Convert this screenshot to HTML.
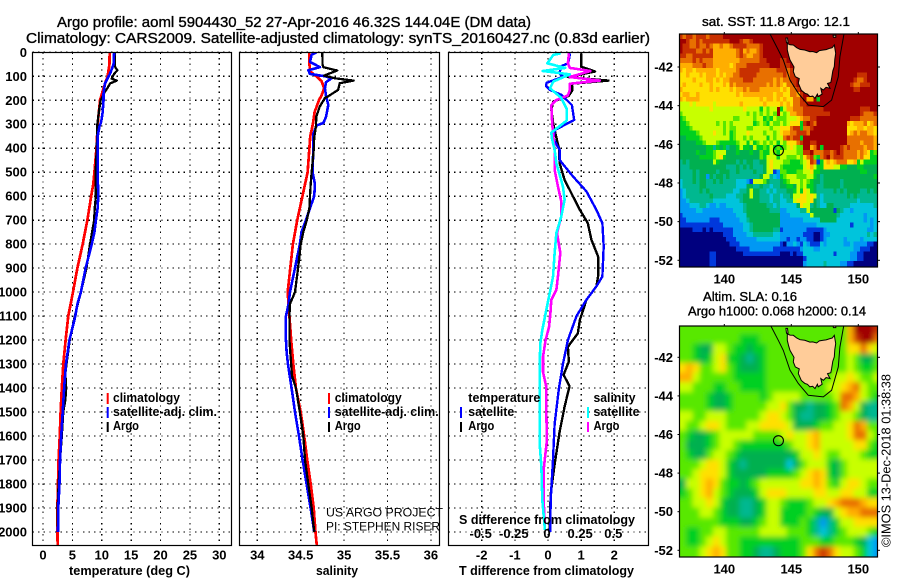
<!DOCTYPE html>
<html>
<head>
<meta charset="utf-8">
<title>Argo profile</title>
<style>
html,body{margin:0;padding:0;background:#fff;}
svg{display:block;font-family:"Liberation Sans",sans-serif;}
text{fill:#000;}
.b{font-weight:bold;font-size:13px;}
.t{font-size:14.5px;stroke:#000;stroke-width:.35px;}
.l{font-weight:bold;font-size:12.5px;}
</style>
</head>
<body>
<svg id="chart" xmlns="http://www.w3.org/2000/svg" width="900" height="580" viewBox="0 0 900 580">
<defs>
<clipPath id="clip-p1"><rect x="32.5" y="52.5" width="199" height="493"/></clipPath>
<clipPath id="clip-p2"><rect x="239.5" y="52.5" width="200" height="493"/></clipPath>
<clipPath id="clip-p3"><rect x="448.5" y="52.5" width="200" height="493"/></clipPath>
<clipPath id="clip-m1"><rect x="679.5" y="34" width="198" height="233"/></clipPath>
<clipPath id="clip-m2"><rect x="679.5" y="326" width="198" height="231"/></clipPath>
<filter id="sla-blur" x="-10%" y="-10%" width="120%" height="120%"><feGaussianBlur stdDeviation="2.6"/></filter>
</defs>
<rect width="900" height="580" fill="#fff"/>

<text class="t" x="57" y="27" textLength="474" lengthAdjust="spacingAndGlyphs">Argo profile: aoml 5904430_52 27-Apr-2016 46.32S 144.04E (DM data)</text>
<text class="t" x="26" y="43" textLength="624" lengthAdjust="spacingAndGlyphs">Climatology: CARS2009. Satellite-adjusted climatology: synTS_20160427.nc (0.83d earlier)</text>

<g id="p1"></g>
<g id="p2"></g>
<g id="p3"></g>
<g id="m1"></g>
<g id="m2"></g>

<text class="b" x="69" y="575" textLength="121" lengthAdjust="spacingAndGlyphs">temperature (deg C)</text>
<text class="b" x="316" y="575" textLength="42" lengthAdjust="spacingAndGlyphs">salinity</text>
<text class="b" x="459" y="575" textLength="175" lengthAdjust="spacingAndGlyphs">T difference from climatology</text>
<text class="b" x="459" y="524" textLength="176" lengthAdjust="spacingAndGlyphs">S difference from climatology</text>

<g>
<rect x="106.7" y="393" width="2" height="11" fill="#f00"/>
<rect x="106.7" y="407" width="2" height="11" fill="#00f"/>
<rect x="106.7" y="422" width="2" height="10" fill="#000"/>
<text class="l" x="113" y="402" textLength="67" lengthAdjust="spacingAndGlyphs">climatology</text>
<text class="l" x="113" y="416" textLength="104" lengthAdjust="spacingAndGlyphs">satellite-adj. clim.</text>
<text class="l" x="113" y="430" textLength="26" lengthAdjust="spacingAndGlyphs">Argo</text>
</g>
<g>
<rect x="328" y="393" width="2" height="11" fill="#f00"/>
<rect x="328" y="407" width="2" height="11" fill="#00f"/>
<rect x="328" y="422" width="2" height="10" fill="#000"/>
<text class="l" x="334.7" y="402" textLength="67" lengthAdjust="spacingAndGlyphs">climatology</text>
<text class="l" x="334.7" y="416" textLength="104" lengthAdjust="spacingAndGlyphs">satellite-adj. clim.</text>
<text class="l" x="334.7" y="430" textLength="26" lengthAdjust="spacingAndGlyphs">Argo</text>
<text x="326" y="516.5" font-size="12" textLength="117" lengthAdjust="spacingAndGlyphs">US ARGO PROJECT</text>
<text x="326" y="530.5" font-size="12" textLength="114" lengthAdjust="spacingAndGlyphs">PI: STEPHEN RISER</text>
</g>
<g>
<text class="l" x="468.3" y="402" textLength="72" lengthAdjust="spacingAndGlyphs">temperature</text>
<rect x="460" y="407" width="2" height="11" fill="#00f"/>
<rect x="460" y="422" width="2" height="10" fill="#000"/>
<text class="l" x="468.3" y="416" textLength="46" lengthAdjust="spacingAndGlyphs">satellite</text>
<text class="l" x="468.3" y="430" textLength="26" lengthAdjust="spacingAndGlyphs">Argo</text>
<text class="l" x="593.5" y="402" textLength="42" lengthAdjust="spacingAndGlyphs">salinity</text>
<rect x="587" y="407" width="2" height="11" fill="#0ff"/>
<rect x="587" y="422" width="2" height="10" fill="#f0f"/>
<text class="l" x="593.5" y="416" textLength="46" lengthAdjust="spacingAndGlyphs">satellite</text>
<text class="l" x="593.5" y="430" textLength="26" lengthAdjust="spacingAndGlyphs">Argo</text>
</g>

<text class="t" x="702" y="26" style="font-size:13px" textLength="148" lengthAdjust="spacingAndGlyphs">sat. SST: 11.8 Argo: 12.1</text>
<text class="t" x="703" y="301" style="font-size:13px" textLength="94" lengthAdjust="spacingAndGlyphs">Altim. SLA: 0.16</text>
<text class="t" x="688" y="315.5" style="font-size:13px" textLength="178" lengthAdjust="spacingAndGlyphs">Argo h1000: 0.068 h2000: 0.14</text>
<text transform="translate(890.5,547) rotate(-90)" font-size="13" textLength="173" lengthAdjust="spacingAndGlyphs">©IMOS 13-Dec-2018 01:38:38</text>
</svg>

<script>
// ---- tick labels ----
var depthTicks = [0,100,200,300,400,500,600,700,800,900,1000,1100,1200,1300,1400,1500,1600,1700,1800,1900,2000];
var tempTicks = [0,5,10,15,20,25,30];
var salTicks = [34,34.5,35,35.5,36];
var salTickLabels = ['34','34.5','35','35.5','36'];
var diffTTicks = [-2,-1,0,1,2];
var diffSTicks = [-0.5,-0.25,0,0.25,0.5];
var lonTicks = [140,145,150];
var latTicks = [-42,-44,-46,-48,-50,-52];

// ---- temperature profiles ----
var tempClimDepth = [0,50,100,120,150,200,250,300,400,500,550,600,700,800,900,1000,1100,1200,1300,1400,1500,1600,1700,1800,1900,2000,2055];
var tempClim = [11.35,11.3,11,10.7,10.3,9.7,9.5,9.3,9.1,8.75,8.55,8.2,7.55,6.75,5.85,5.1,4.3,3.85,3.45,3.2,3,2.85,2.65,2.55,2.45,2.45,2.5];
var tempSatDepth = [0,50,90,110,130,170,200,250,290,310,350,400,500,600,650,700,750,800,900,1000,1050,1100,1200,1300,1400,1500,1600,1700,1800,1900,2000];
var tempSat = [12.1,12,11.4,10.95,10.55,10.3,10.3,10.15,9.9,9.6,9.3,9.3,9.3,9.4,9.3,9,8.75,8.3,7.25,6.45,5.85,5.5,4.5,3.9,3.6,3.35,3.1,2.9,2.8,2.6,2.55];
var tempArgoDepth = [0,60,75,90,110,118,130,150,170,200,250,300,400,500,600,650,700,800,900,1000,1100,1200,1300,1340,1400,1450,1500,1600,1700,1800,1900,2000];
var tempArgo = [12.25,12.25,12.65,12.1,11.7,12.55,11.4,10.95,10.4,9.8,9.5,9.25,9.15,8.95,9,8.8,8.7,8,7.4,6.45,5.4,4.55,4,3.8,3.95,3.8,3.45,3.2,2.9,2.65,2.5,2.45];

// ---- salinity profiles ----
var salClimDepth = [0,50,80,100,120,150,180,200,250,300,350,400,500,600,700,800,900,1000,1050,1100,1200,1300,1400,1500,1600,1700,1800,1900,2000,2055];
var salClim = [34.6,34.6,34.61,34.68,34.74,34.77,34.74,34.71,34.66,34.64,34.61,34.6,34.58,34.52,34.46,34.41,34.38,34.35,34.36,34.37,34.39,34.415,34.445,34.5,34.54,34.575,34.615,34.65,34.67,34.685];
var salSatDepth = [0,10,40,62,75,90,100,108,125,150,180,220,270,295,305,340,400,500,550,600,650,700,750,800,900,1000,1050,1100,1200,1250,1300,1400,1500,1600,1700,1800,1900,2000];
var salSat = [34.683,34.626,34.607,34.722,34.587,34.607,34.779,34.856,34.791,34.779,34.791,34.818,34.791,34.76,34.683,34.645,34.645,34.637,34.664,34.656,34.607,34.56,34.51,34.49,34.434,34.376,34.36,34.33,34.33,34.338,34.353,34.395,34.434,34.48,34.522,34.568,34.614,34.656];
var salArgoDepth = [0,50,62,76,97,108,118,129,157,185,190,226,268,310,358,400,500,550,600,650,700,750,800,900,1000,1050,1100,1200,1300,1350,1400,1500,1600,1700,1800,1900,2000];
var salArgo = [34.749,34.752,34.76,34.92,34.77,34.887,35.11,34.95,34.93,34.81,34.78,34.72,34.68,34.675,34.655,34.652,34.626,34.615,34.607,34.6,34.57,34.53,34.5,34.47,34.434,34.376,34.37,34.37,34.39,34.4,34.445,34.49,34.53,34.55,34.587,34.626,34.656];

// ---- difference profiles ----
var dTSatDepth = [4,46,57,88,102,127,141,157,178,220,282,324,359,407,449,518,580,657,712,810,935,976,1032,1100,1200,1300,1400,1550,1700,1870,2000];
var dTSat = [0.665,0.61,0.41,0.34,0.46,-0.04,-0.06,0.06,0.41,0.72,0.79,0.21,0.16,0.35,0.35,0.755,1.16,1.46,1.64,1.68,1.64,1.46,1.16,0.86,0.6,0.45,0.33,0.2,0.15,0.08,0.07];
var dTArgoDepth = [4,60,80,103,118,131,157,182,205,240,300,360,400,462,532,657,712,782,851,935,976,1032,1117,1172,1228,1290,1345,1392,1478,1583,1718,1843,2000];
var dTArgo = [1,1,1.42,0.6,1.82,0.72,0.74,0.62,0.16,0.1,0.16,0.26,0.33,0.35,0.5,0.96,1.2,1.31,1.51,1.51,1.46,1.16,0.96,0.9,0.6,0.63,0.47,0.65,0.5,0.35,0.2,0.08,0.05];
var dSSatDepth = [4,11,46,65,78,92,122,150,190,235,285,335,360,407,462,560,615,685,754,837,935,1018,1075,1158,1214,1311,1450,1630,1728,1867,1992];
var dSSat = [0.096,0.04,-0.005,0.13,-0.04,0.165,0.04,0.015,0.1,0.14,0.14,0.025,0.03,0.05,0.063,0.113,0.125,0.1,0.063,0.05,0.038,0.008,-0.013,-0.043,-0.058,-0.063,-0.063,-0.063,-0.05,-0.043,-0.023];
var dSArgoDepth = [4,46,65,78,103,118,131,157,180,200,220,280,355,407,490,560,622,685,754,837,935,990,1032,1090,1145,1200,1270,1332,1395,1492,1617,1742,1867,1978];
var dSArgo = [0.158,0.15,0.165,0.32,0.165,0.39,0.165,0.165,0.15,0.06,0.025,0.03,0.04,0.05,0.05,0.075,0.1,0.1,0.068,0.093,0.075,0.063,0.025,0.018,0.008,-0.018,-0.038,-0.038,-0.013,-0.013,-0.008,-0.033,-0.033,-0.023];

// ---- map data: each character is a hex colour-class for one grid cell ----
var colourScale = ['#00007f','#0038dc','#0098f4','#00c4dc','#00b890','#00b050','#00d020','#58e800','#c8ff00','#ffe000','#ffae00','#e87000','#c83000','#a00000'];
// SST, quarter-degree rows; west half and east half
var sstWest = [
"cbccbcccbccccddddddddddddddddd",
"ddcbbcbccccccccdddcbbcddddddd",
"dccbbcbbcbaabaabccccbbbbcddddd",
"dccccbbcbcaaaaaaabcabaabcddddd",
"ccbbccccccaaaaaaabcbaabbcddddd",
"bbbbcbcbbbaaaaaaaabbbbbbccdddd",
"aaaabbbcbbaaaaa9abbbcccccccddd",
"a9aa9aaaaaa9aaaaabccccccbbbbbc",
"99a999a9aaa9a9aabbcccccbbbbbbb",
"9999a999aa9a9aabbbbcccbbbbbbab",
"9a9999a99a999a9babbbbbbbbbabab",
"a99999999a9a999a9aababbbaaaaaa",
"9aa99a99999999999a9aaaaaaaaa9a",
"a9aaaa999999999999999999a9aa9a",
"888989999989999999a999999a9999",
"888888888988888888898888 68788",
"788888888888888888887878 78787",
"678888888888888877888878867687",
"667888888887878788888867876877",
"666788888888878778887788888788c",
"666667888898878678889888878878",
"556666788888888678878788886878",
"555556678887666667886867878786",
"555555556646564556866586676867",
"555556556678885556555655766876",
"555555666678965555555555768886",
"454555555586555554545544558988",
"444555555555554445454544458988",
"444454555554555445444454458812",
"444454552545545444444444588432",
"344454554454544443332188875444",
"344444554444444443335544544344",
"234444545444444433445855443434",
"234444444544443334455855444344",
"223444444433333333455555444344",
"222333443223223333345555554434",
"222223322222222233345555555444",
"122222222222222223335555555555",
"112222222111222222334555555555",
"111111111111122222233455555555",
"000011101011111122233455555544",
"000000000000011122223344444433",
"000000000000001112222223333333",
"000000000000000111222222222222",
"000000000000000001111222222211",
"000000000110000000011111111111",
"000000000110000000000000000000",
"000000000110000000000000000000"
].map(function(s){return s.replace(/ /g,'').slice(0,30);});
var sstEast = [
"dddddddddddddddddddddddddddddd",
"dddddddddddddddddddddddddddddd",
"dddddddddddddddddddddddddddddd",
"dddddddddddddddddddddddddddddd",
"dddddddddddddddddddddddddddddd",
"ccdddddddddddddddddddddddddddd",
"cccddddddddddddddddddddddddddd",
"ccbcdddddddddddddddddddddddddd",
"bcbccddddddddddddddddddcccdddd",
"abbccdddddddddddddddddcbbcdddd",
"a9bbcddddddddddddddddcbbcccddd",
"9a9bbcddddddddddddddddccd dddd",
"a99bbacddddddddddddddddddddddd",
"9a99bbcdaad6dddddddddddddddddd",
"a9a9bbccdddddddddddddddddddddd",
"68aabbbccccccdddddddddddcccddd",
"878aabbccccccccdddddddddcbbbccd",
"778889abbccddddddddddcccbbbbbc",
"8789996cdcbddddddddda9aaab9aba",
"999bcc6bbcdddddddddd999aa9aa9a",
"9aabbcccbddddddddddd9ababbaa99",
"8bcbcc6dddddddddddddbbbbbbbbaa",
"87999bcddccdddddddddbbbbabbbaa",
"6789877ddabd6dddddcbcbbbbabbaa",
"888887 7ccdbbbccbcdcbbbbaba9678",
"88777879bc76bcdbcccbbbbab99667",
"877666789cb169a9abbb99a6866666",
"766666689a866999886655566 55556",
"776667788966555555555555665556",
"678887778865455555555555555566",
"567888787655455555455555555556",
"556658786654455555455555555555",
"445568698654444454545555445454",
"344588998984344444445454444444",
"334489998954344444444443444444",
"333335988454335544444333333343",
"223333448555555515433233333333",
"222333333855555554333333323333",
"222222233333555553333333323232",
"222222222223333333333133333232",
"122222221111123333333333332233",
"222222211100122333333333334343",
"221221221100123333323333233333",
"102232132111323333322322221100",
"111111233322333333333322111000",
"000101133333333313333221100000",
"000000013333333333333221100000",
"000000023333343333221100000000"
].map(function(s){return s.replace(/ /g,'').slice(0,30);});
// SLA, half-degree rows
var slaRows = [
"7777777777777777777777777adddc",
"7777777776667777777777777acddb",
"776558876656677777777777799b98",
"776568966545677777777777787557",
"9a9778976555677777777777787667",
"aa8777776666677777777778898778",
"8877766776666777777777889ab877",
"777765567777678888777778bba876",
"777765567777788975545567ba8544",
"887788877777899875445567887544",
"87789987778899998555677889ba77",
"76556788888777789889a88889bb87",
"75556788766666667889a888889976",
"765578876555555556889877888766",
"777899865455555535788865788888",
"77899986555556666789a965788888",
"5889a976656788888899a976899877",
"6789a8765556899988889988998866",
"77889865544568876667889abbba99",
"7778876554456886666765589aabbb",
"777777666556788666764246889999",
"766778877777888877764346788876",
"766789877666666666777667776532",
"77789a97766544566679bcb9887632"
];

// ---- coast and shelf outlines in lon / lat ----
var coastLon = [144.7,144.9,145.15,145.4,145.65,146.0,146.39,146.6,146.89,147.1,147.39,147.6,147.89,148.05,148.21,148.31,148.25,148.21,148.1,148.01,147.95,147.7,147.89,147.6,147.39,147.2,147.3,147.01,146.95,146.77,146.6,146.39,146.2,146.02,145.75,145.52,145.6,145.3,145.15,145.2,144.9,144.8,144.7];
var coastLat = [-40.78,-40.85,-40.86,-41.0,-41.09,-41.12,-41.21,-41.2,-41.26,-41.15,-41.12,-41.1,-41.03,-41.0,-40.86,-41.29,-41.6,-41.98,-42.2,-42.59,-42.8,-42.85,-43.1,-43.05,-43.19,-43.1,-43.4,-43.53,-43.4,-43.62,-43.5,-43.53,-43.4,-43.36,-43.2,-42.84,-42.6,-42.5,-42.24,-42.0,-41.64,-41.4,-41.12];
var shelfLon = [143.41,144.03,144.4,144.9,145.52,146.27,147.39,148.01,148.51,148.63,148.93];
var shelfLat = [-40.29,-41.12,-41.64,-42.67,-43.36,-43.97,-44.05,-43.71,-42.5,-41.47,-40.29];
var kingIslandLon = [144.6,144.72,144.76,144.64];
var kingIslandLat = [-40.5,-40.5,-40.75,-40.75];
var flindersLon = [148.12,148.32,148.32,148.14];
var flindersLat = [-40.36,-40.36,-40.46,-40.46];
var argoLon = 144.04;
var argoLat = -46.32;

// ---- axis functions ----
function yDepth(d){return 52.3+d*0.2398;}
function xTemp(v){return 43+v*5.877;}
function xSal(v){return 257.3+(v-34)*86.8;}
function xDiffT(v){return 548+v*33.15;}
function xDiffS(v){return 548+v*4*33.15;}
function xLon(v){return 724.3+(v-140)*13.4;}
function ySst(v){return 67+(-42-v)*19.33;}
function ySla(v){return 357.3+(-42-v)*19.3;}

var NS='http://www.w3.org/2000/svg';
function make(parent,tag,props){
  var el=document.createElementNS(NS,tag);
  for(var k in props){el.setAttribute(k,props[k]);}
  parent.appendChild(el);
  return el;
}
function label(parent,str,x,y,anchor){
  var t=make(parent,'text',{x:x,y:y,'text-anchor':anchor,'class':'b'});
  t.textContent=str;
  return t;
}
function series(parent,depths,values,xf,colour,width,name){
  var pts=[];
  for(var i=0;i<depths.length;i++){pts.push(xf(values[i]).toFixed(2)+','+yDepth(depths[i]).toFixed(2));}
  var l=make(parent,'polyline',{points:pts.join(' '),fill:'none',stroke:colour,'stroke-width':width,'stroke-linejoin':'round','shape-rendering':'crispEdges'});
  
  
  return l;
}
function panelFrame(parent,x,y,w,h){
  var r=make(parent,'rect',{x:x,y:y,width:w,height:h,fill:'none',stroke:'#000','stroke-width':1.2});
  
  
}
function profileGrid(parent,x0,x1,xticks,xf){
  depthTicks.forEach(function(d){
    var g=make(parent,'line',{x1:x0,x2:x1,y1:yDepth(d),y2:yDepth(d),stroke:'#000','stroke-width':1.2,'stroke-dasharray':'1.4 4.2','shape-rendering':'crispEdges'});
    
    
  });
  xticks.forEach(function(v){
    var g=make(parent,'line',{x1:xf(v),x2:xf(v),y1:52.5,y2:545.5,stroke:'#000','stroke-width':1.2,'stroke-dasharray':'1.4 4.2','shape-rendering':'crispEdges'});
    
    
  });
}

// ---- panel 1: temperature ----
var p1=document.getElementById('p1');
profileGrid(p1,32.5,231.5,tempTicks,xTemp);
var c1=make(p1,'g',{'clip-path':'url(#clip-p1)'});


series(c1,tempClimDepth,tempClim,xTemp,'#f00',2.7,'temperature-climatology-line');
series(c1,tempArgoDepth,tempArgo,xTemp,'#000',2.3,'temperature-argo-line');
series(c1,tempSatDepth,tempSat,xTemp,'#00f',2.6,'temperature-satellite-line');
panelFrame(p1,32.5,52.5,199,493);
depthTicks.forEach(function(d){
  var t=label(p1,String(d),27,yDepth(d)+4.5,'end');
  
  
});
tempTicks.forEach(function(v){
  var t=label(p1,String(v),xTemp(v),559.5,'middle');
  
  
});

// ---- panel 2: salinity ----
var p2=document.getElementById('p2');
profileGrid(p2,239.5,439.5,salTicks,xSal);
var c2=make(p2,'g',{'clip-path':'url(#clip-p2)'});


series(c2,salClimDepth,salClim,xSal,'#f00',2.7,'salinity-climatology-line');
series(c2,salSatDepth,salSat,xSal,'#00f',2.6,'salinity-satellite-line');
series(c2,salArgoDepth,salArgo,xSal,'#000',2.3,'salinity-argo-line');
panelFrame(p2,239.5,52.5,200,493);
salTicks.forEach(function(v,i){
  var t=label(p2,salTickLabels[i],xSal(v),559.5,'middle');
  
  
});

// ---- panel 3: differences ----
var p3=document.getElementById('p3');
profileGrid(p3,448.5,648.5,diffTTicks,xDiffT);
var c3=make(p3,'g',{'clip-path':'url(#clip-p3)'});


series(c3,dTArgoDepth,dTArgo,xDiffT,'#000',2.4,'t-difference-argo-line');
series(c3,dTSatDepth,dTSat,xDiffT,'#00f',2.4,'t-difference-satellite-line');
series(c3,dSArgoDepth,dSArgo,xDiffS,'#f0f',2.6,'s-difference-argo-line');
series(c3,dSSatDepth,dSSat,xDiffS,'#0ff',2.6,'s-difference-satellite-line');
panelFrame(p3,448.5,52.5,200,493);
diffTTicks.forEach(function(v){
  var t=label(p3,String(v),xDiffT(v),559.5,'middle');
  
  
});
diffSTicks.forEach(function(v){
  var t=label(p3,String(v),xDiffS(v)-1,538,'middle');
  
  
});

// ---- maps ----
function pathFrom(lons,lats,yf,close){
  var s='';
  for(var i=0;i<lons.length;i++){s+=(i?'L':'M')+xLon(lons[i]).toFixed(1)+' '+yf(lats[i]).toFixed(1);}
  return s+(close?'Z':'');
}
function drawCells(parent,rows,yf,step,colOffset,extend,name){
  var lonStart=136.64, latStart=-40.29;
  rows.forEach(function(row,r){
    for(var c=0;c<row.length;c++){
      var val=parseInt(row.charAt(c),16);
      if(isNaN(val)){continue;}
      var lon0=lonStart+(c+colOffset)*step, lat0=latStart-r*step;
      var x=xLon(lon0), y=yf(lat0);
      var w=xLon(lon0+step)-x+0.4, h=yf(lat0-step)-y+0.4;
      if(extend){
        if(c===0){x-=14;w+=14;}
        if(c===row.length-1){w+=14;}
        if(r===0){y-=14;h+=14;}
        if(r===rows.length-1){h+=14;}
      }
      var cell=make(parent,'rect',{x:x.toFixed(2),y:y.toFixed(2),width:w.toFixed(2),height:h.toFixed(2),fill:colourScale[val],'shape-rendering':'crispEdges'});
      
      
    }
  });
}
function drawMap(id,clipId,rowSets,step,yf,top,bottom,cellName,blur){
  var m=document.getElementById(id);
  var clip=make(m,'g',{'clip-path':'url(#'+clipId+')'});
  
  
  make(clip,'rect',{x:670,y:top-10,width:220,height:bottom-top+20,fill:blur?'#58e800':'#a00000'});
  var cells=make(clip,'g',blur?{filter:'url(#sla-blur)'}:{});
  
  
  rowSets.forEach(function(set){
    drawCells(cells,set.rows,yf,step,set.offset,blur,cellName);
  });
  var land=make(clip,'path',{d:pathFrom(coastLon,coastLat,yf,true),fill:'#ffcc99',stroke:'#000','stroke-width':1});
  
  
  var king=make(clip,'path',{d:pathFrom(kingIslandLon,kingIslandLat,yf,true),fill:'#ffcc99',stroke:'#000','stroke-width':1});
  
  
  var flin=make(clip,'path',{d:pathFrom(flindersLon,flindersLat,yf,true),fill:'#ffcc99',stroke:'#000','stroke-width':1});
  
  
  var shelf=make(clip,'path',{d:pathFrom(shelfLon,shelfLat,yf,false),fill:'none',stroke:'#000','stroke-width':1});
  
  
  var dot=make(clip,'circle',{cx:xLon(argoLon),cy:yf(argoLat),r:5,fill:'none',stroke:'#000','stroke-width':1.1});
  
  
  var fr=make(m,'rect',{x:679.5,y:top,width:198,height:bottom-top,fill:'none',stroke:'#000','stroke-width':1.2});
  
  
  lonTicks.forEach(function(v){
    var a=make(m,'line',{x1:xLon(v),x2:xLon(v),y1:top-2,y2:top,stroke:'#000'});
    
    
    var t=label(m,String(v),xLon(v),bottom+16.5,'middle');
    
    
  });
  latTicks.forEach(function(v){
    var a=make(m,'line',{x1:677.5,x2:679.5,y1:yf(v),y2:yf(v),stroke:'#000'});
    
    
    var b=make(m,'line',{x1:877.5,x2:880,y1:yf(v),y2:yf(v),stroke:'#000'});
    
    
    var t=label(m,String(v),673,yf(v)+4.5,'end');
    
    
  });
}
drawMap('m1','clip-m1',[{rows:sstWest,offset:0},{rows:sstEast,offset:30}],0.25,ySst,34,267,'sst-cell',false);
drawMap('m2','clip-m2',[{rows:slaRows,offset:0}],0.5,ySla,326,557,'sla-cell',true);
</script>
</body>
</html>
